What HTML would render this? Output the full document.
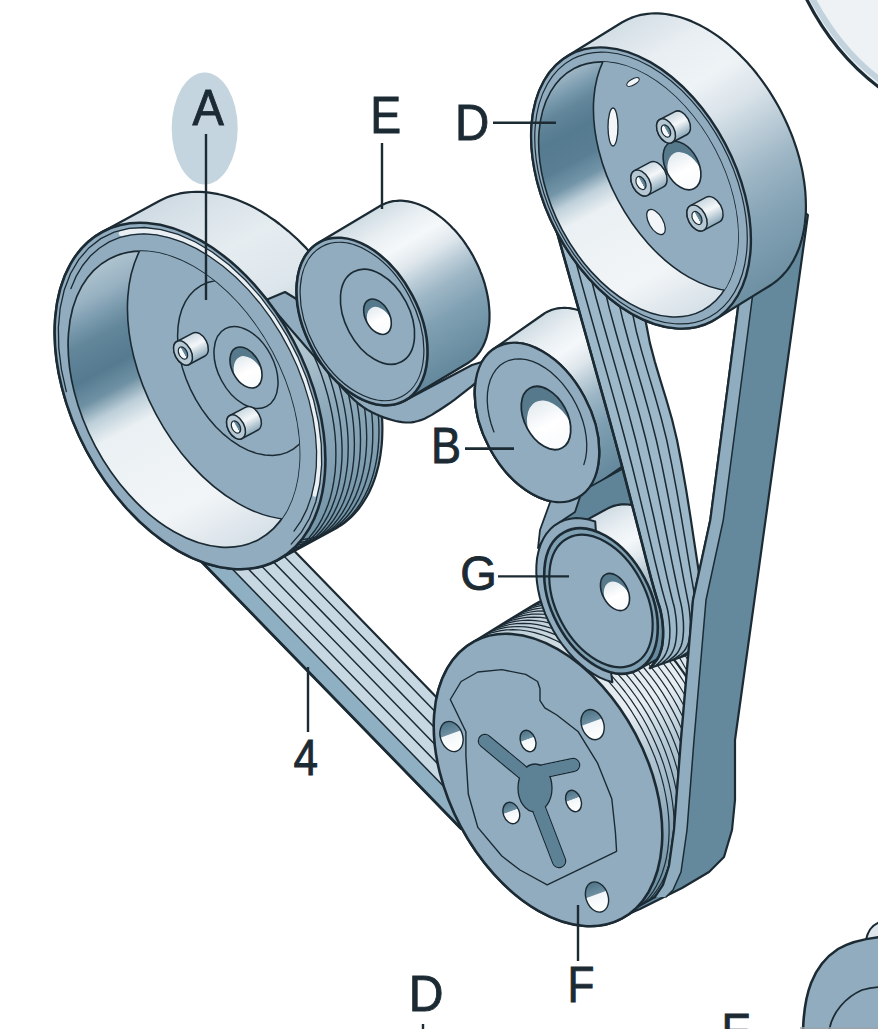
<!DOCTYPE html>
<html><head><meta charset="utf-8"><style>
html,body{margin:0;padding:0;background:#fff;overflow:hidden}
svg{display:block}
</style></head><body>
<svg width="878" height="1029" viewBox="0 0 878 1029"><defs><linearGradient id="side" gradientUnits="objectBoundingBox" x1="0" y1="0" x2="1" y2="0"><stop offset="0" stop-color="#cfdbe3"/><stop offset="0.12" stop-color="#e6edf1"/><stop offset="0.25" stop-color="#f5f8fa"/><stop offset="0.36" stop-color="#e0e8ed"/><stop offset="0.46" stop-color="#bccdd8"/><stop offset="0.56" stop-color="#9db6c5"/><stop offset="0.72" stop-color="#7fa0b2"/><stop offset="1" stop-color="#64889c"/></linearGradient><linearGradient id="sideD" gradientUnits="objectBoundingBox" x1="0" y1="0" x2="1" y2="0"><stop offset="0" stop-color="#cfdbe3"/><stop offset="0.15" stop-color="#eaf0f4"/><stop offset="0.35" stop-color="#f2f6f8"/><stop offset="0.5" stop-color="#d8e2e8"/><stop offset="0.65" stop-color="#a7bfcc"/><stop offset="0.8" stop-color="#7c9db0"/><stop offset="1" stop-color="#66899d"/></linearGradient><linearGradient id="sideA" gradientUnits="objectBoundingBox" x1="0" y1="0" x2="1" y2="0"><stop offset="0" stop-color="#cfdbe3"/><stop offset="0.2" stop-color="#e6edf1"/><stop offset="0.35" stop-color="#dde6ec"/><stop offset="0.5" stop-color="#b7cad5"/><stop offset="0.7" stop-color="#8eaabb"/><stop offset="1" stop-color="#7394a7"/></linearGradient><linearGradient id="sideF" gradientUnits="objectBoundingBox" x1="0" y1="0" x2="1" y2="0"><stop offset="0" stop-color="#b9cbd6"/><stop offset="0.25" stop-color="#dfe7ec"/><stop offset="0.45" stop-color="#e8eef2"/><stop offset="0.6" stop-color="#b4c8d4"/><stop offset="0.8" stop-color="#8eaabb"/><stop offset="1" stop-color="#6a8da0"/></linearGradient><linearGradient id="wall" gradientUnits="objectBoundingBox" x1="0" y1="0" x2="1" y2="0"><stop offset="0" stop-color="#aec3cf"/><stop offset="0.08" stop-color="#98b2c2"/><stop offset="0.14" stop-color="#7b9bae"/><stop offset="0.2" stop-color="#62869a"/><stop offset="0.3" stop-color="#557b90"/><stop offset="0.37" stop-color="#6f91a4"/><stop offset="0.43" stop-color="#bdcfd9"/><stop offset="0.5" stop-color="#eaf0f3"/><stop offset="0.8" stop-color="#f2f5f7"/><stop offset="1" stop-color="#d5e0e7"/></linearGradient><linearGradient id="wallD" gradientUnits="objectBoundingBox" x1="0" y1="0" x2="1" y2="0"><stop offset="0" stop-color="#9fb7c6"/><stop offset="0.06" stop-color="#7d9db0"/><stop offset="0.12" stop-color="#62869a"/><stop offset="0.2" stop-color="#557b90"/><stop offset="0.3" stop-color="#5a7f94"/><stop offset="0.37" stop-color="#7395a8"/><stop offset="0.43" stop-color="#c0d1db"/><stop offset="0.5" stop-color="#eaf0f3"/><stop offset="0.8" stop-color="#f2f5f7"/><stop offset="1" stop-color="#d5e0e7"/></linearGradient><linearGradient id="hole" gradientUnits="objectBoundingBox" x1="0" y1="0" x2="0" y2="1"><stop offset="0" stop-color="#4f7487"/><stop offset="0.4" stop-color="#6d8fa1"/><stop offset="0.43" stop-color="#f2f6f8"/><stop offset="1" stop-color="#ffffff"/></linearGradient><linearGradient id="holew" gradientUnits="objectBoundingBox" x1="0" y1="0" x2="1" y2="0"><stop offset="0" stop-color="#e4ebef"/><stop offset="0.4" stop-color="#ffffff"/><stop offset="1" stop-color="#f4f7f9"/></linearGradient><linearGradient id="bossg" gradientUnits="objectBoundingBox" x1="0" y1="0" x2="1" y2="0"><stop offset="0" stop-color="#c9d7e0"/><stop offset="0.45" stop-color="#f4f7f9"/><stop offset="1" stop-color="#8aa8b9"/></linearGradient><linearGradient id="cg1" gradientUnits="userSpaceOnUse" x1="497.1" y1="627.3" x2="660.9" y2="894.7"><stop offset="0" stop-color="#b9cbd6"/><stop offset="0.25" stop-color="#dfe7ec"/><stop offset="0.45" stop-color="#e8eef2"/><stop offset="0.6" stop-color="#b4c8d4"/><stop offset="0.8" stop-color="#8eaabb"/><stop offset="1" stop-color="#6a8da0"/></linearGradient><linearGradient id="cg2" gradientUnits="userSpaceOnUse" x1="513.2" y1="335.3" x2="610.8" y2="474.7"><stop offset="0" stop-color="#cfdbe3"/><stop offset="0.12" stop-color="#e6edf1"/><stop offset="0.25" stop-color="#f5f8fa"/><stop offset="0.36" stop-color="#e0e8ed"/><stop offset="0.46" stop-color="#bccdd8"/><stop offset="0.56" stop-color="#9db6c5"/><stop offset="0.72" stop-color="#7fa0b2"/><stop offset="1" stop-color="#64889c"/></linearGradient><linearGradient id="cg3" gradientUnits="userSpaceOnUse" x1="585.7" y1="520.5" x2="660.3" y2="657.5"><stop offset="0" stop-color="#cfdbe3"/><stop offset="0.12" stop-color="#e6edf1"/><stop offset="0.25" stop-color="#f5f8fa"/><stop offset="0.36" stop-color="#e0e8ed"/><stop offset="0.46" stop-color="#bccdd8"/><stop offset="0.56" stop-color="#9db6c5"/><stop offset="0.72" stop-color="#7fa0b2"/><stop offset="1" stop-color="#64889c"/></linearGradient><linearGradient id="cg4" gradientUnits="userSpaceOnUse" x1="589.2" y1="42.7" x2="747.8" y2="299.3"><stop offset="0" stop-color="#d3dee5"/><stop offset="0.15" stop-color="#e8eef2"/><stop offset="0.3" stop-color="#eef3f6"/><stop offset="0.42" stop-color="#dbe4ea"/><stop offset="0.52" stop-color="#c0d0da"/><stop offset="0.65" stop-color="#9fb7c6"/><stop offset="0.8" stop-color="#84a3b5"/><stop offset="1" stop-color="#6e90a3"/></linearGradient><linearGradient id="cg5" gradientUnits="userSpaceOnUse" x1="129.6" y1="217.1" x2="307.4" y2="543.9"><stop offset="0" stop-color="#cfdbe3"/><stop offset="0.2" stop-color="#e6edf1"/><stop offset="0.35" stop-color="#dde6ec"/><stop offset="0.5" stop-color="#b7cad5"/><stop offset="0.7" stop-color="#8eaabb"/><stop offset="1" stop-color="#7394a7"/></linearGradient><linearGradient id="cg6" gradientUnits="userSpaceOnUse" x1="346.9" y1="225.8" x2="439.1" y2="380.2"><stop offset="0" stop-color="#cfdbe3"/><stop offset="0.12" stop-color="#e6edf1"/><stop offset="0.25" stop-color="#f5f8fa"/><stop offset="0.36" stop-color="#e0e8ed"/><stop offset="0.46" stop-color="#bccdd8"/><stop offset="0.56" stop-color="#9db6c5"/><stop offset="0.72" stop-color="#7fa0b2"/><stop offset="1" stop-color="#64889c"/></linearGradient></defs><rect width="878" height="1029" fill="#fff"/><path d="M806,-2 C822,30 845,62 880,88 L880,-2 Z" fill="#eef2f5"/>
<path d="M812,-2 C828,28 850,58 880,80" fill="none" stroke="#c3d3dd" stroke-width="6"/>
<path d="M806,-2 C822,30 845,62 880,88" fill="none" stroke="#1b2a33" stroke-width="3.2"/>
<polygon points="655.0,640.0 700.0,630.0 705.0,690.0 660.0,690.0" fill="#dde6ec" stroke="none" stroke-width="0" stroke-linejoin="round" />
<polyline points="664.0,655.0 684.0,690.0" fill="none" stroke="#1b2a33" stroke-width="1.2" stroke-linejoin="round" stroke-linecap="round"/>
<polyline points="671.0,655.0 691.0,690.0" fill="none" stroke="#1b2a33" stroke-width="1.2" stroke-linejoin="round" stroke-linecap="round"/>
<polyline points="678.0,655.0 698.0,690.0" fill="none" stroke="#1b2a33" stroke-width="1.2" stroke-linejoin="round" stroke-linecap="round"/>
<polyline points="685.0,655.0 705.0,690.0" fill="none" stroke="#1b2a33" stroke-width="1.2" stroke-linejoin="round" stroke-linecap="round"/>
<polygon points="433.7,726.5 433.8,721.8 434.0,717.1 434.3,712.5 434.8,708.1 435.4,703.7 436.2,699.4 437.0,695.1 438.1,691.0 439.2,687.0 440.5,683.2 441.9,679.4 443.5,675.8 445.1,672.2 446.9,668.9 448.9,665.6 450.9,662.5 453.1,659.5 455.4,656.7 457.7,654.1 460.2,651.5 462.9,649.2 465.6,647.0 468.4,645.0 471.3,643.1 533.3,605.1 536.3,603.4 539.4,601.8 542.6,600.5 545.8,599.3 549.2,598.3 552.6,597.4 556.1,596.8 559.6,596.3 563.2,595.9 566.9,595.8 570.6,595.9 574.4,596.1 578.2,596.5 582.0,597.1 585.9,597.8 589.8,598.7 593.8,599.8 597.7,601.1 601.7,602.6 605.7,604.2 609.7,606.0 613.7,607.9 617.6,610.0 621.6,612.3 625.6,614.7 629.5,617.3 633.4,620.1 637.3,623.0 641.2,626.0 645.0,629.2 648.8,632.5 652.5,635.9 656.2,639.5 659.8,643.2 663.4,647.0 666.9,651.0 670.3,655.0 673.6,659.2 676.9,663.4 680.1,667.8 683.2,672.2 686.2,676.7 689.1,681.3 692.0,686.0 694.7,690.8 697.3,695.6 699.9,700.4 702.3,705.3 704.6,710.3 706.7,715.3 708.8,720.3 710.7,725.4 712.6,730.5 714.3,735.6 715.8,740.7 717.3,745.8 718.6,750.9 719.8,756.0 720.8,761.0 721.7,766.1 722.5,771.1 723.1,776.1 723.6,781.0 724.0,785.9 724.2,790.8 724.3,795.5 724.2,800.2 724.0,804.9 723.7,809.5 723.2,813.9 722.6,818.3 721.8,822.6 721.0,826.9 719.9,831.0 718.8,835.0 717.5,838.8 716.1,842.6 714.5,846.2 712.9,849.8 711.1,853.1 709.1,856.4 707.1,859.5 704.9,862.5 702.6,865.3 700.3,867.9 697.8,870.5 695.1,872.8 692.4,875.0 689.6,877.0 686.7,878.9 624.7,916.9 621.7,918.6 618.6,920.2 615.4,921.5 612.2,922.7 608.8,923.7 605.4,924.6 601.9,925.2 598.4,925.7 594.8,926.1 591.1,926.2 587.4,926.1 583.6,925.9 579.8,925.5 576.0,924.9 572.1,924.2 568.2,923.3 564.2,922.2 560.3,920.9 556.3,919.4 552.3,917.8 548.3,916.0 544.3,914.1 540.4,912.0 536.4,909.7 532.4,907.3 528.5,904.7 524.6,901.9 520.7,899.0 516.8,896.0 513.0,892.8 509.2,889.5 505.5,886.1 501.8,882.5 498.2,878.8 494.6,875.0 491.1,871.0 487.7,867.0 484.4,862.8 481.1,858.6 477.9,854.2 474.8,849.8 471.8,845.3 468.9,840.7 466.0,836.0 463.3,831.2 460.7,826.4 458.1,821.6 455.7,816.7 453.4,811.7 451.3,806.7 449.2,801.7 447.3,796.6 445.4,791.5 443.7,786.4 442.2,781.3 440.7,776.2 439.4,771.1 438.2,766.0 437.2,761.0 436.3,755.9 435.5,750.9 434.9,745.9 434.4,741.0 434.0,736.1 433.8,731.2" fill="url(#cg1)" stroke="#1b2a33" stroke-width="2.2" stroke-linejoin="round"/><clipPath id="cg1c"><polygon points="433.7,726.5 433.8,721.8 434.0,717.1 434.3,712.5 434.8,708.1 435.4,703.7 436.2,699.4 437.0,695.1 438.1,691.0 439.2,687.0 440.5,683.2 441.9,679.4 443.5,675.8 445.1,672.2 446.9,668.9 448.9,665.6 450.9,662.5 453.1,659.5 455.4,656.7 457.7,654.1 460.2,651.5 462.9,649.2 465.6,647.0 468.4,645.0 471.3,643.1 533.3,605.1 536.3,603.4 539.4,601.8 542.6,600.5 545.8,599.3 549.2,598.3 552.6,597.4 556.1,596.8 559.6,596.3 563.2,595.9 566.9,595.8 570.6,595.9 574.4,596.1 578.2,596.5 582.0,597.1 585.9,597.8 589.8,598.7 593.8,599.8 597.7,601.1 601.7,602.6 605.7,604.2 609.7,606.0 613.7,607.9 617.6,610.0 621.6,612.3 625.6,614.7 629.5,617.3 633.4,620.1 637.3,623.0 641.2,626.0 645.0,629.2 648.8,632.5 652.5,635.9 656.2,639.5 659.8,643.2 663.4,647.0 666.9,651.0 670.3,655.0 673.6,659.2 676.9,663.4 680.1,667.8 683.2,672.2 686.2,676.7 689.1,681.3 692.0,686.0 694.7,690.8 697.3,695.6 699.9,700.4 702.3,705.3 704.6,710.3 706.7,715.3 708.8,720.3 710.7,725.4 712.6,730.5 714.3,735.6 715.8,740.7 717.3,745.8 718.6,750.9 719.8,756.0 720.8,761.0 721.7,766.1 722.5,771.1 723.1,776.1 723.6,781.0 724.0,785.9 724.2,790.8 724.3,795.5 724.2,800.2 724.0,804.9 723.7,809.5 723.2,813.9 722.6,818.3 721.8,822.6 721.0,826.9 719.9,831.0 718.8,835.0 717.5,838.8 716.1,842.6 714.5,846.2 712.9,849.8 711.1,853.1 709.1,856.4 707.1,859.5 704.9,862.5 702.6,865.3 700.3,867.9 697.8,870.5 695.1,872.8 692.4,875.0 689.6,877.0 686.7,878.9 624.7,916.9 621.7,918.6 618.6,920.2 615.4,921.5 612.2,922.7 608.8,923.7 605.4,924.6 601.9,925.2 598.4,925.7 594.8,926.1 591.1,926.2 587.4,926.1 583.6,925.9 579.8,925.5 576.0,924.9 572.1,924.2 568.2,923.3 564.2,922.2 560.3,920.9 556.3,919.4 552.3,917.8 548.3,916.0 544.3,914.1 540.4,912.0 536.4,909.7 532.4,907.3 528.5,904.7 524.6,901.9 520.7,899.0 516.8,896.0 513.0,892.8 509.2,889.5 505.5,886.1 501.8,882.5 498.2,878.8 494.6,875.0 491.1,871.0 487.7,867.0 484.4,862.8 481.1,858.6 477.9,854.2 474.8,849.8 471.8,845.3 468.9,840.7 466.0,836.0 463.3,831.2 460.7,826.4 458.1,821.6 455.7,816.7 453.4,811.7 451.3,806.7 449.2,801.7 447.3,796.6 445.4,791.5 443.7,786.4 442.2,781.3 440.7,776.2 439.4,771.1 438.2,766.0 437.2,761.0 436.3,755.9 435.5,750.9 434.9,745.9 434.4,741.0 434.0,736.1 433.8,731.2"/></clipPath><g clip-path="url(#cg1c)"><polyline points="481.1,637.2 487.0,634.5 493.1,632.3 499.6,630.8 506.2,629.9 513.1,629.6 520.1,630.0 527.3,631.0 534.7,632.6 542.1,634.8 549.5,637.6 557.0,641.0 564.5,645.0 571.9,649.5 579.2,654.6 586.5,660.2 593.6,666.3 600.5,672.9 607.3,679.9 613.8,687.3 620.1,695.1 626.1,703.2 631.8,711.7 637.1,720.4 642.2,729.4 646.8,738.5 651.0,747.9 654.9,757.3 658.3,766.8 661.2,776.4 663.7,786.0 665.7,795.5 667.3,804.9 668.4,814.2 669.0,823.4 669.1,832.3 668.7,841.0 667.8,849.4 666.5,857.5 664.6,865.3 662.3,872.7 659.6,879.6 656.3,886.1 652.7,892.2 648.6,897.7 644.1,902.7 639.3,907.2 634.1,911.1 628.5,914.4" fill="none" stroke="#1b2a33" stroke-width="1.2" stroke-linejoin="round" stroke-linecap="round"/><polyline points="486.2,634.1 492.1,631.3 498.3,629.2 504.7,627.7 511.3,626.8 518.2,626.5 525.3,626.8 532.5,627.8 539.8,629.4 547.2,631.6 554.6,634.4 562.1,637.8 569.6,641.8 577.0,646.4 584.4,651.5 591.6,657.1 598.7,663.2 605.7,669.7 612.4,676.7 618.9,684.2 625.2,692.0 631.2,700.1 636.9,708.6 642.3,717.3 647.3,726.2 651.9,735.4 656.1,744.7 660.0,754.2 663.4,763.7 666.3,773.3 668.8,782.8 670.9,792.3 672.4,801.8 673.5,811.1 674.1,820.2 674.2,829.2 673.8,837.9 672.9,846.3 671.6,854.4 669.7,862.1 667.4,869.5 664.7,876.5 661.5,883.0 657.8,889.0 653.7,894.6 649.3,899.6 644.4,904.1 639.2,908.0 633.6,911.3" fill="none" stroke="#1b2a33" stroke-width="1.2" stroke-linejoin="round" stroke-linecap="round"/><polyline points="491.3,630.9 497.2,628.2 503.4,626.1 509.8,624.5 516.5,623.6 523.3,623.4 530.4,623.7 537.6,624.7 544.9,626.3 552.3,628.5 559.7,631.3 567.2,634.7 574.7,638.7 582.1,643.2 589.5,648.3 596.7,653.9 603.8,660.0 610.8,666.6 617.5,673.6 624.1,681.0 630.3,688.8 636.3,697.0 642.0,705.4 647.4,714.1 652.4,723.1 657.0,732.3 661.3,741.6 665.1,751.0 668.5,760.6 671.4,770.1 673.9,779.7 676.0,789.2 677.5,798.6 678.6,808.0 679.2,817.1 679.3,826.0 678.9,834.7 678.1,843.2 676.7,851.3 674.9,859.0 672.6,866.4 669.8,873.3 666.6,879.8 662.9,885.9 658.9,891.4 654.4,896.4 649.5,900.9 644.3,904.8 638.8,908.2" fill="none" stroke="#1b2a33" stroke-width="1.2" stroke-linejoin="round" stroke-linecap="round"/><polyline points="496.5,627.8 502.3,625.1 508.5,622.9 514.9,621.4 521.6,620.5 528.4,620.2 535.5,620.6 542.7,621.5 550.0,623.1 557.4,625.4 564.9,628.2 572.3,631.6 579.8,635.6 587.2,640.1 594.6,645.2 601.8,650.8 608.9,656.9 615.9,663.5 622.6,670.5 629.2,677.9 635.4,685.7 641.4,693.8 647.1,702.3 652.5,711.0 657.5,720.0 662.1,729.1 666.4,738.5 670.2,747.9 673.6,757.4 676.6,767.0 679.1,776.6 681.1,786.1 682.7,795.5 683.7,804.8 684.3,814.0 684.4,822.9 684.0,831.6 683.2,840.0 681.8,848.1 680.0,855.9 677.7,863.2 674.9,870.2 671.7,876.7 668.0,882.8 664.0,888.3 659.5,893.3 654.6,897.8 649.4,901.7 643.9,905.0" fill="none" stroke="#1b2a33" stroke-width="1.2" stroke-linejoin="round" stroke-linecap="round"/><polyline points="501.6,624.7 507.4,621.9 513.6,619.8 520.0,618.3 526.7,617.4 533.6,617.1 540.6,617.4 547.8,618.4 555.1,620.0 562.5,622.2 570.0,625.0 577.4,628.4 584.9,632.4 592.3,637.0 599.7,642.1 606.9,647.7 614.1,653.8 621.0,660.3 627.8,667.3 634.3,674.7 640.6,682.5 646.6,690.7 652.2,699.1 657.6,707.9 662.6,716.8 667.2,726.0 671.5,735.3 675.3,744.8 678.7,754.3 681.7,763.9 684.2,773.4 686.2,782.9 687.8,792.4 688.8,801.7 689.4,810.8 689.5,819.8 689.2,828.5 688.3,836.9 686.9,845.0 685.1,852.7 682.8,860.1 680.0,867.1 676.8,873.6 673.2,879.6 669.1,885.2 664.6,890.2 659.8,894.7 654.5,898.6 649.0,901.9" fill="none" stroke="#1b2a33" stroke-width="1.2" stroke-linejoin="round" stroke-linecap="round"/><polyline points="506.7,621.5 512.6,618.8 518.7,616.6 525.1,615.1 531.8,614.2 538.7,614.0 545.7,614.3 552.9,615.3 560.2,616.9 567.6,619.1 575.1,621.9 582.6,625.3 590.0,629.3 597.5,633.8 604.8,638.9 612.1,644.5 619.2,650.6 626.1,657.2 632.9,664.2 639.4,671.6 645.7,679.4 651.7,687.6 657.4,696.0 662.7,704.7 667.7,713.7 672.4,722.9 676.6,732.2 680.4,741.6 683.8,751.2 686.8,760.7 689.3,770.3 691.3,779.8 692.9,789.2 694.0,798.5 694.6,807.7 694.7,816.6 694.3,825.3 693.4,833.7 692.0,841.9 690.2,849.6 687.9,857.0 685.1,863.9 681.9,870.4 678.3,876.5 674.2,882.0 669.7,887.0 664.9,891.5 659.7,895.4 654.1,898.8" fill="none" stroke="#1b2a33" stroke-width="1.2" stroke-linejoin="round" stroke-linecap="round"/><polyline points="511.8,618.4 517.7,615.6 523.8,613.5 530.3,612.0 536.9,611.1 543.8,610.8 550.8,611.2 558.0,612.1 565.3,613.7 572.7,615.9 580.2,618.8 587.7,622.2 595.1,626.2 602.6,630.7 609.9,635.8 617.2,641.4 624.3,647.5 631.2,654.0 638.0,661.1 644.5,668.5 650.8,676.3 656.8,684.4 662.5,692.9 667.8,701.6 672.8,710.6 677.5,719.7 681.7,729.1 685.5,738.5 688.9,748.0 691.9,757.6 694.4,767.2 696.4,776.7 698.0,786.1 699.1,795.4 699.7,804.6 699.8,813.5 699.4,822.2 698.5,830.6 697.2,838.7 695.3,846.5 693.0,853.8 690.2,860.8 687.0,867.3 683.4,873.3 679.3,878.9 674.8,883.9 670.0,888.4 664.8,892.3 659.2,895.6" fill="none" stroke="#1b2a33" stroke-width="1.2" stroke-linejoin="round" stroke-linecap="round"/><polyline points="516.9,615.2 522.8,612.5 529.0,610.4 535.4,608.9 542.0,608.0 548.9,607.7 556.0,608.0 563.2,609.0 570.5,610.6 577.9,612.8 585.3,615.6 592.8,619.0 600.3,623.0 607.7,627.6 615.0,632.6 622.3,638.2 629.4,644.3 636.4,650.9 643.1,657.9 649.6,665.3 655.9,673.1 661.9,681.3 667.6,689.7 673.0,698.5 678.0,707.4 682.6,716.6 686.8,725.9 690.7,735.4 694.1,744.9 697.0,754.5 699.5,764.0 701.6,773.5 703.1,783.0 704.2,792.3 704.8,801.4 704.9,810.4 704.5,819.1 703.6,827.5 702.3,835.6 700.4,843.3 698.1,850.7 695.4,857.7 692.1,864.2 688.5,870.2 684.4,875.8 680.0,880.8 675.1,885.2 669.9,889.2 664.3,892.5" fill="none" stroke="#1b2a33" stroke-width="1.2" stroke-linejoin="round" stroke-linecap="round"/><polyline points="522.0,612.1 527.9,609.4 534.1,607.2 540.5,605.7 547.2,604.8 554.0,604.5 561.1,604.9 568.3,605.9 575.6,607.5 583.0,609.7 590.4,612.5 597.9,615.9 605.4,619.9 612.8,624.4 620.2,629.5 627.4,635.1 634.5,641.2 641.5,647.8 648.2,654.8 654.8,662.2 661.0,670.0 667.0,678.1 672.7,686.6 678.1,695.3 683.1,704.3 687.7,713.5 692.0,722.8 695.8,732.2 699.2,741.8 702.1,751.3 704.6,760.9 706.7,770.4 708.2,779.8 709.3,789.1 709.9,798.3 710.0,807.2 709.6,815.9 708.7,824.3 707.4,832.4 705.6,840.2 703.2,847.6 700.5,854.5 697.3,861.0 693.6,867.1 689.5,872.6 685.1,877.6 680.2,882.1 675.0,886.0 669.5,889.4" fill="none" stroke="#1b2a33" stroke-width="1.2" stroke-linejoin="round" stroke-linecap="round"/><polyline points="527.2,609.0 533.0,606.2 539.2,604.1 545.6,602.6 552.3,601.7 559.1,601.4 566.2,601.8 573.4,602.7 580.7,604.3 588.1,606.5 595.6,609.4 603.0,612.8 610.5,616.7 617.9,621.3 625.3,626.4 632.5,632.0 639.6,638.1 646.6,644.6 653.3,651.7 659.9,659.1 666.1,666.9 672.1,675.0 677.8,683.5 683.2,692.2 688.2,701.2 692.8,710.3 697.1,719.7 700.9,729.1 704.3,738.6 707.3,748.2 709.8,757.7 711.8,767.3 713.3,776.7 714.4,786.0 715.0,795.1 715.1,804.1 714.7,812.8 713.9,821.2 712.5,829.3 710.7,837.1 708.4,844.4 705.6,851.4 702.4,857.9 698.7,863.9 694.7,869.5 690.2,874.5 685.3,879.0 680.1,882.9 674.6,886.2" fill="none" stroke="#1b2a33" stroke-width="1.2" stroke-linejoin="round" stroke-linecap="round"/><polyline points="532.3,605.8 538.1,603.1 544.3,601.0 550.7,599.4 557.4,598.5 564.3,598.3 571.3,598.6 578.5,599.6 585.8,601.2 593.2,603.4 600.7,606.2 608.1,609.6 615.6,613.6 623.0,618.2 630.4,623.2 637.6,628.8 644.8,634.9 651.7,641.5 658.5,648.5 665.0,655.9 671.3,663.7 677.3,671.9 682.9,680.3 688.3,689.1 693.3,698.0 697.9,707.2 702.2,716.5 706.0,726.0 709.4,735.5 712.4,745.1 714.9,754.6 716.9,764.1 718.5,773.6 719.5,782.9 720.1,792.0 720.2,801.0 719.8,809.7 719.0,818.1 717.6,826.2 715.8,833.9 713.5,841.3 710.7,848.3 707.5,854.8 703.8,860.8 699.8,866.3 695.3,871.4 690.5,875.8 685.2,879.8 679.7,883.1" fill="none" stroke="#1b2a33" stroke-width="1.2" stroke-linejoin="round" stroke-linecap="round"/></g>
<polygon points="474.8,393.3 474.8,390.8 474.9,388.2 475.1,385.8 475.3,383.3 475.7,380.9 476.1,378.6 476.6,376.3 477.1,374.1 477.8,371.9 478.5,369.8 479.2,367.7 480.1,365.7 481.0,363.8 482.0,362.0 483.0,360.2 484.1,358.5 485.3,356.9 486.5,355.4 487.8,353.9 489.2,352.5 490.6,351.3 492.1,350.1 493.6,349.0 543.6,314.0 545.2,312.9 546.9,312.0 548.5,311.2 550.3,310.4 552.1,309.8 553.9,309.2 555.7,308.8 557.6,308.4 559.6,308.1 561.5,308.0 563.5,307.9 565.5,307.9 567.6,308.0 569.7,308.2 571.8,308.6 573.9,309.0 576.0,309.5 578.2,310.1 580.3,310.8 582.5,311.6 584.7,312.4 586.8,313.4 589.0,314.5 591.2,315.6 593.3,316.9 595.5,318.2 597.6,319.6 599.8,321.1 601.9,322.7 604.0,324.3 606.1,326.0 608.1,327.9 610.1,329.7 612.2,331.7 614.1,333.7 616.1,335.8 618.0,337.9 619.8,340.1 621.7,342.4 623.4,344.7 625.2,347.1 626.9,349.5 628.5,352.0 630.1,354.5 631.6,357.0 633.1,359.6 634.6,362.2 635.9,364.9 637.2,367.5 638.5,370.2 639.7,373.0 640.8,375.7 641.9,378.5 642.9,381.2 643.8,384.0 644.6,386.8 645.4,389.6 646.1,392.3 646.8,395.1 647.3,397.9 647.8,400.6 648.3,403.3 648.6,406.1 648.9,408.7 649.1,411.4 649.2,414.1 649.2,416.7 649.2,419.2 649.1,421.8 648.9,424.2 648.7,426.7 648.3,429.1 647.9,431.4 647.4,433.7 646.9,435.9 646.2,438.1 645.5,440.2 644.8,442.3 643.9,444.3 643.0,446.2 642.0,448.0 641.0,449.8 639.9,451.5 638.7,453.1 637.5,454.6 636.2,456.1 634.8,457.5 633.4,458.7 631.9,459.9 630.4,461.0 580.4,496.0 578.8,497.1 577.1,498.0 575.5,498.8 573.7,499.6 571.9,500.2 570.1,500.8 568.3,501.2 566.4,501.6 564.4,501.9 562.5,502.0 560.5,502.1 558.5,502.1 556.4,502.0 554.3,501.8 552.2,501.4 550.1,501.0 548.0,500.5 545.8,499.9 543.7,499.2 541.5,498.4 539.3,497.6 537.2,496.6 535.0,495.5 532.8,494.4 530.7,493.1 528.5,491.8 526.4,490.4 524.2,488.9 522.1,487.3 520.0,485.7 517.9,484.0 515.9,482.1 513.9,480.3 511.8,478.3 509.9,476.3 507.9,474.2 506.0,472.1 504.2,469.9 502.3,467.6 500.6,465.3 498.8,462.9 497.1,460.5 495.5,458.0 493.9,455.5 492.4,453.0 490.9,450.4 489.4,447.8 488.1,445.1 486.8,442.5 485.5,439.8 484.3,437.0 483.2,434.3 482.1,431.5 481.1,428.8 480.2,426.0 479.4,423.2 478.6,420.4 477.9,417.7 477.2,414.9 476.7,412.1 476.2,409.4 475.7,406.7 475.4,403.9 475.1,401.3 474.9,398.6 474.8,395.9" fill="url(#cg2)" stroke="#1b2a33" stroke-width="2.2" stroke-linejoin="round"/>
<g transform="translate(537,422.5) rotate(62.0)" ><ellipse cx="0.00" cy="0.00" rx="85.50" ry="53.87" fill="#91acbf" stroke="#1b2a33" stroke-width="2.4" /><polyline points="-11.88,42.44 -20.21,41.17 -28.23,39.25 -35.80,36.72 -42.81,33.61 -49.15,29.97 -54.72,25.86 -59.42,21.34 -63.19,16.49 -65.97,11.38 -67.71,6.09 -68.39,0.71 -67.99,-4.69 -66.53,-10.01 -64.02,-15.18 -60.50,-20.11 -56.03,-24.72 -50.68,-28.94 -44.54,-32.71 -37.69,-35.96 -30.25,-38.65 -22.34,-40.73 -14.08,-42.17 -5.59,-42.95 2.98,-43.05 11.51,-42.48 19.86,-41.24 27.89,-39.35 35.48,-36.84 42.52,-33.75 48.89,-30.14 54.49,-26.05 59.24,-21.55" fill="none" stroke="#1b2a33" stroke-width="1.3" stroke-linecap="round"/></g>
<g transform="translate(546,418) rotate(62.0)" ><clipPath id="h1"><ellipse cx="0" cy="0" rx="34" ry="21.42"/></clipPath><g clip-path="url(#h1)"><ellipse cx="0" cy="0" rx="34" ry="21.42" fill="#56798c"/><ellipse cx="14.28" cy="1.70" rx="33.32" ry="20.99" fill="url(#holew)"/></g><ellipse cx="0.00" cy="0.00" rx="34.00" ry="21.42" fill="none" stroke="#1b2a33" stroke-width="1.8" /></g>
<polygon points="566.0,500.0 635.0,462.0 648.0,512.0 600.0,525.0 566.0,538.0" fill="#5f8397" stroke="#1b2a33" stroke-width="1.6" stroke-linejoin="round" />
<polygon points="544.2,574.4 544.3,572.1 544.4,569.8 544.5,567.5 544.8,565.3 545.1,563.1 545.4,560.9 545.9,558.8 546.4,556.8 547.0,554.8 547.6,552.9 548.3,551.0 549.1,549.2 549.9,547.5 550.8,545.8 551.8,544.2 552.8,542.6 553.8,541.2 555.0,539.8 556.2,538.4 557.4,537.2 558.7,536.0 560.0,534.9 561.4,533.9 562.9,533.0 564.4,532.1 608.4,508.1 609.9,507.4 611.5,506.7 613.1,506.1 614.8,505.6 616.5,505.2 618.2,504.8 620.0,504.6 621.8,504.4 623.6,504.4 625.4,504.4 627.3,504.5 629.2,504.7 631.1,505.0 633.0,505.4 635.0,505.8 636.9,506.4 638.9,507.0 640.9,507.7 642.9,508.5 644.8,509.4 646.8,510.4 648.8,511.4 650.8,512.6 652.7,513.8 654.7,515.1 656.6,516.4 658.6,517.9 660.5,519.4 662.4,520.9 664.3,522.6 666.1,524.3 667.9,526.1 669.7,527.9 671.5,529.8 673.2,531.8 674.9,533.8 676.6,535.8 678.2,538.0 679.8,540.1 681.4,542.3 682.9,544.6 684.3,546.9 685.7,549.2 687.1,551.5 688.4,553.9 689.6,556.3 690.8,558.8 692.0,561.3 693.1,563.7 694.1,566.2 695.1,568.8 696.0,571.3 696.8,573.8 697.6,576.3 698.3,578.9 698.9,581.4 699.5,583.9 700.0,586.5 700.5,589.0 700.9,591.5 701.2,593.9 701.4,596.4 701.6,598.8 701.7,601.2 701.8,603.6 701.7,605.9 701.6,608.2 701.5,610.5 701.2,612.7 700.9,614.9 700.6,617.1 700.1,619.2 699.6,621.2 699.0,623.2 698.4,625.1 697.7,627.0 696.9,628.8 696.1,630.5 695.2,632.2 694.2,633.8 693.2,635.4 692.2,636.8 691.0,638.2 689.8,639.6 688.6,640.8 687.3,642.0 686.0,643.1 684.6,644.1 683.1,645.0 681.6,645.9 637.6,669.9 636.1,670.6 634.5,671.3 632.9,671.9 631.2,672.4 629.5,672.8 627.8,673.2 626.0,673.4 624.2,673.6 622.4,673.6 620.6,673.6 618.7,673.5 616.8,673.3 614.9,673.0 613.0,672.6 611.0,672.2 609.1,671.6 607.1,671.0 605.1,670.3 603.1,669.5 601.2,668.6 599.2,667.6 597.2,666.6 595.2,665.4 593.3,664.2 591.3,662.9 589.4,661.6 587.4,660.1 585.5,658.6 583.6,657.1 581.7,655.4 579.9,653.7 578.1,651.9 576.3,650.1 574.5,648.2 572.8,646.2 571.1,644.2 569.4,642.2 567.8,640.0 566.2,637.9 564.6,635.7 563.1,633.4 561.7,631.1 560.3,628.8 558.9,626.5 557.6,624.1 556.4,621.7 555.2,619.2 554.0,616.7 552.9,614.3 551.9,611.8 550.9,609.2 550.0,606.7 549.2,604.2 548.4,601.7 547.7,599.1 547.1,596.6 546.5,594.1 546.0,591.5 545.5,589.0 545.1,586.5 544.8,584.1 544.6,581.6 544.4,579.2 544.3,576.8" fill="url(#cg3)" stroke="#1b2a33" stroke-width="2.2" stroke-linejoin="round"/>
<polygon points="548.0,200.0 549.1,203.8 550.2,207.8 551.7,213.1 553.9,221.1 557.2,233.0 562.0,250.0 568.8,274.2 577.4,304.9 587.1,339.5 597.1,375.3 606.7,409.7 615.0,440.0 622.3,467.2 629.2,493.7 635.7,518.7 641.6,541.6 646.7,561.6 651.0,578.0 654.3,589.9 656.6,597.7 658.1,602.6 659.2,605.9 660.1,608.9 661.0,613.0 661.9,617.8 662.5,622.3 662.9,626.6 663.1,630.6 663.1,634.4 663.0,638.0 662.7,641.5 662.3,644.7 661.7,647.8 660.9,650.7 660.0,653.4 659.0,656.0 657.7,658.5 656.0,660.9 654.2,663.1 652.5,665.1 651.0,666.8 650.0,668.0 684.0,656.0 685.5,655.2 687.6,654.1 690.1,652.8 692.7,651.3 695.1,649.7 697.0,648.0 698.5,646.4 699.7,644.7 700.8,642.9 701.6,641.0 702.4,638.7 703.0,636.0 703.5,632.9 703.9,629.5 704.1,625.8 704.2,621.8 704.2,617.5 704.0,613.0 703.8,609.3 703.7,606.7 703.5,603.8 702.9,599.3 701.8,591.8 700.0,580.0 697.4,562.6 694.0,540.4 690.2,515.2 686.0,488.9 681.5,463.2 677.0,440.0 672.0,419.2 666.3,399.5 660.4,380.4 654.8,361.6 649.8,342.6 646.0,323.0 643.5,301.4 641.9,277.9 641.1,254.2 640.6,232.1 640.4,213.5 640.0,200.0" fill="#9db8c8" stroke="#1b2a33" stroke-width="2.2" stroke-linejoin="round" />
<polyline points="563.3,200.0 564.3,205.4 565.3,211.8 566.6,220.0 568.6,230.6 571.6,244.4 576.0,262.2 582.3,285.6 590.3,314.3 599.3,346.3 608.7,379.4 617.6,411.3 625.3,440.0 632.2,466.5 638.7,492.9 644.8,518.1 650.3,541.4 655.1,561.7 659.2,578.3 662.2,590.2 664.3,597.9 665.7,602.8 666.6,606.0 667.4,609.0 668.2,613.0 668.9,617.8 669.4,622.2 669.7,626.4 669.9,630.4 669.8,634.1 669.7,637.7 669.3,641.0 668.9,644.1 668.2,647.0 667.4,649.7 666.4,652.2 665.3,654.7 663.9,657.0 662.1,659.3 660.2,661.4 658.4,663.3 656.8,664.8 655.7,666.0" fill="none" stroke="#1b2a33" stroke-width="1.5" stroke-linejoin="round" stroke-linecap="round"/>
<polyline points="578.7,200.0 579.5,207.0 580.3,215.9 581.5,226.8 583.3,240.0 586.0,255.8 590.0,274.3 595.8,297.0 603.2,323.8 611.6,353.1 620.2,383.4 628.5,412.9 635.7,440.0 642.0,465.9 648.1,492.1 653.9,517.5 659.0,541.2 663.6,561.9 667.3,578.7 670.1,590.5 672.0,598.2 673.2,603.0 674.1,606.2 674.7,609.1 675.3,613.0 676.0,617.7 676.4,622.2 676.6,626.3 676.7,630.2 676.6,633.9 676.3,637.3 675.9,640.5 675.4,643.5 674.7,646.2 673.9,648.7 672.8,651.1 671.7,653.3 670.2,655.5 668.3,657.7 666.2,659.7 664.2,661.4 662.5,662.9 661.3,664.0" fill="none" stroke="#1b2a33" stroke-width="1.5" stroke-linejoin="round" stroke-linecap="round"/>
<polyline points="594.0,200.0 594.7,208.6 595.4,219.9 596.4,233.7 597.9,249.5 600.4,267.2 604.0,286.5 609.3,308.4 616.1,333.2 623.8,360.0 631.7,387.4 639.4,414.5 646.0,440.0 651.9,465.2 657.6,491.3 662.9,517.0 667.8,541.0 672.0,562.1 675.5,579.0 678.0,590.9 679.7,598.5 680.8,603.2 681.5,606.3 682.0,609.1 682.5,613.0 683.0,617.7 683.4,622.1 683.5,626.2 683.5,630.0 683.3,633.6 683.0,637.0 682.6,640.1 682.0,642.9 681.2,645.4 680.3,647.7 679.2,649.9 678.0,652.0 676.4,654.1 674.4,656.1 672.2,657.9 670.1,659.6 668.3,661.0 667.0,662.0" fill="none" stroke="#1b2a33" stroke-width="1.5" stroke-linejoin="round" stroke-linecap="round"/>
<polyline points="609.3,200.0 609.9,210.2 610.5,224.0 611.3,240.5 612.6,259.0 614.7,278.6 618.0,298.7 622.8,319.8 629.0,342.7 636.0,366.8 643.3,391.5 650.2,416.1 656.3,440.0 661.8,464.6 667.0,490.5 672.0,516.4 676.5,540.8 680.5,562.2 683.7,579.3 686.0,591.2 687.5,598.8 688.4,603.4 688.9,606.4 689.3,609.2 689.7,613.0 690.1,617.6 690.3,622.0 690.4,626.1 690.3,629.9 690.0,633.4 689.7,636.7 689.2,639.6 688.5,642.2 687.7,644.6 686.8,646.7 685.7,648.7 684.3,650.7 682.6,652.6 680.5,654.5 678.2,656.2 675.9,657.8 674.0,659.0 672.7,660.0" fill="none" stroke="#1b2a33" stroke-width="1.5" stroke-linejoin="round" stroke-linecap="round"/>
<polyline points="624.7,200.0 625.1,211.8 625.6,228.1 626.2,247.3 627.3,268.4 629.1,290.0 632.0,310.8 636.3,331.2 641.9,352.1 648.2,373.6 654.8,395.5 661.1,417.7 666.7,440.0 671.6,463.9 676.5,489.7 681.1,515.8 685.3,540.6 688.9,562.4 691.8,579.7 693.9,591.5 695.2,599.0 695.9,603.6 696.3,606.6 696.6,609.3 696.8,613.0 697.1,617.6 697.3,621.9 697.3,625.9 697.1,629.7 696.8,633.2 696.3,636.3 695.8,639.1 695.1,641.6 694.2,643.8 693.2,645.7 692.1,647.5 690.7,649.3 688.9,651.1 686.6,652.9 684.1,654.5 681.8,655.9 679.8,657.1 678.3,658.0" fill="none" stroke="#1b2a33" stroke-width="1.5" stroke-linejoin="round" stroke-linecap="round"/>
<polyline points="548.0,200.0 549.1,203.8 550.2,207.8 551.7,213.1 553.9,221.1 557.2,233.0 562.0,250.0 568.8,274.2 577.4,304.9 587.1,339.5 597.1,375.3 606.7,409.7 615.0,440.0 622.3,467.2 629.2,493.7 635.7,518.7 641.6,541.6 646.7,561.6 651.0,578.0 654.3,589.9 656.6,597.7 658.1,602.6 659.2,605.9 660.1,608.9 661.0,613.0 661.9,617.8 662.5,622.3 662.9,626.6 663.1,630.6 663.1,634.4 663.0,638.0 662.7,641.5 662.3,644.7 661.7,647.8 660.9,650.7 660.0,653.4 659.0,656.0 657.7,658.5 656.0,660.9 654.2,663.1 652.5,665.1 651.0,666.8 650.0,668.0" fill="none" stroke="#1b2a33" stroke-width="2.6" stroke-linejoin="round" stroke-linecap="round"/>
<polygon points="790.0,200.0 807.9,215.0 735.0,740.0 735.0,800.0 732.0,830.0 724.0,857.0 709.0,872.0 682.0,888.0 664.0,897.0 640.0,909.0 614.0,920.0 655.0,897.0 663.0,885.0 669.0,866.0 674.0,830.0 681.0,740.0 693.0,600.0 710.3,520.0 728.6,380.0 739.0,300.0 750.0,220.0" fill="#64889c" stroke="#1b2a33" stroke-width="2.2" stroke-linejoin="round" />
<polygon points="750.0,220.0 739.0,300.0 728.6,380.0 710.3,520.0 693.0,600.0 681.0,740.0 674.0,830.0 669.0,866.0 663.0,885.0 655.0,897.0 666.0,897.0 673.0,890.0 681.0,872.0 687.0,830.0 694.0,740.0 706.0,600.0 723.3,520.0 741.6,380.0 752.0,300.0 763.0,220.0" fill="#8fadbf" stroke="none" stroke-width="0" stroke-linejoin="round" />
<polyline points="763.0,220.0 752.0,300.0 741.6,380.0 723.3,520.0 706.0,600.0 694.0,740.0 687.0,830.0 681.0,872.0 673.0,890.0 666.0,897.0" fill="none" stroke="#1b2a33" stroke-width="1.5" stroke-linejoin="round" stroke-linecap="round"/>
<polyline points="750.0,220.0 739.0,300.0 728.6,380.0 710.3,520.0 693.0,600.0 681.0,740.0 674.0,830.0 669.0,866.0 663.0,885.0 655.0,897.0" fill="none" stroke="#1b2a33" stroke-width="2.2" stroke-linejoin="round" stroke-linecap="round"/>
<polygon points="531.1,136.5 531.1,132.0 531.3,127.5 531.7,123.1 532.1,118.8 532.7,114.6 533.4,110.4 534.3,106.4 535.3,102.4 536.4,98.6 537.6,94.9 539.0,91.2 540.5,87.7 542.1,84.4 543.8,81.1 545.7,78.0 547.6,75.0 549.7,72.1 551.9,69.4 554.2,66.9 556.6,64.5 559.1,62.2 561.7,60.1 564.4,58.1 567.2,56.3 622.2,22.3 625.1,20.7 628.1,19.2 631.1,17.9 634.3,16.7 637.5,15.8 640.8,14.9 644.1,14.3 647.5,13.8 651.0,13.5 654.5,13.4 658.1,13.4 661.7,13.7 665.4,14.0 669.1,14.6 672.8,15.3 676.6,16.2 680.4,17.3 684.2,18.5 688.0,19.9 691.9,21.4 695.7,23.2 699.5,25.0 703.4,27.1 707.2,29.3 711.0,31.6 714.8,34.1 718.5,36.7 722.3,39.5 726.0,42.4 729.7,45.5 733.3,48.7 736.9,52.0 740.4,55.4 743.9,59.0 747.3,62.6 750.7,66.4 754.0,70.3 757.2,74.3 760.3,78.4 763.4,82.6 766.4,86.9 769.3,91.2 772.1,95.6 774.8,100.1 777.5,104.7 780.0,109.3 782.4,114.0 784.7,118.7 786.9,123.5 789.0,128.3 791.0,133.2 792.9,138.0 794.6,142.9 796.3,147.8 797.8,152.7 799.2,157.6 800.4,162.5 801.6,167.4 802.6,172.3 803.4,177.2 804.2,182.0 804.8,186.8 805.3,191.5 805.6,196.2 805.8,200.9 805.9,205.5 805.9,210.0 805.7,214.5 805.3,218.9 804.9,223.2 804.3,227.4 803.6,231.6 802.7,235.6 801.7,239.6 800.6,243.4 799.4,247.1 798.0,250.8 796.5,254.3 794.9,257.6 793.2,260.9 791.3,264.0 789.4,267.0 787.3,269.9 785.1,272.6 782.8,275.1 780.4,277.5 777.9,279.8 775.3,281.9 772.6,283.9 769.8,285.7 714.8,319.7 711.9,321.3 708.9,322.8 705.9,324.1 702.7,325.3 699.5,326.2 696.2,327.1 692.9,327.7 689.5,328.2 686.0,328.5 682.5,328.6 678.9,328.6 675.3,328.3 671.6,328.0 667.9,327.4 664.2,326.7 660.4,325.8 656.6,324.7 652.8,323.5 649.0,322.1 645.1,320.6 641.3,318.8 637.5,317.0 633.6,314.9 629.8,312.7 626.0,310.4 622.2,307.9 618.5,305.3 614.7,302.5 611.0,299.6 607.3,296.5 603.7,293.3 600.1,290.0 596.6,286.6 593.1,283.0 589.7,279.4 586.3,275.6 583.0,271.7 579.8,267.7 576.7,263.6 573.6,259.4 570.6,255.1 567.7,250.8 564.9,246.4 562.2,241.9 559.5,237.3 557.0,232.7 554.6,228.0 552.3,223.3 550.1,218.5 548.0,213.7 546.0,208.8 544.1,204.0 542.4,199.1 540.7,194.2 539.2,189.3 537.8,184.4 536.6,179.5 535.4,174.6 534.4,169.7 533.6,164.8 532.8,160.0 532.2,155.2 531.7,150.5 531.4,145.8 531.2,141.1" fill="url(#cg4)" stroke="#1b2a33" stroke-width="2.2" stroke-linejoin="round"/>
<g transform="translate(641,188) rotate(62.0)" ><ellipse cx="0.00" cy="0.00" rx="151.00" ry="95.13" fill="#91acbf" stroke="#1b2a33" stroke-width="2.4" /><ellipse cx="0.00" cy="0.00" rx="146.00" ry="91.98" fill="none" stroke="#1b2a33" stroke-width="1.2" /><ellipse cx="0.00" cy="3.00" rx="137.00" ry="86.31" fill="url(#wallD)" stroke="#1b2a33" stroke-width="1.6" /><clipPath id="cD"><ellipse cx="0" cy="3" rx="137" ry="86.31"/></clipPath><g clip-path="url(#cD)"><ellipse cx="0.00" cy="-64.00" rx="143.00" ry="90.09" fill="#91acbf" stroke="#1b2a33" stroke-width="1.6" /></g></g>
<g transform="translate(682,165.6) rotate(62.0)" ><clipPath id="h2"><ellipse cx="0" cy="0" rx="26" ry="16.38"/></clipPath><g clip-path="url(#h2)"><ellipse cx="0" cy="0" rx="26" ry="16.38" fill="#56798c"/><ellipse cx="10.92" cy="1.30" rx="25.48" ry="16.05" fill="url(#holew)"/></g><ellipse cx="0.00" cy="0.00" rx="26.00" ry="16.38" fill="none" stroke="#1b2a33" stroke-width="1.6" /></g>
<g transform="translate(666,131) rotate(62.0)" ><g transform="translate(0,0)"><path d="M-13,-17 L-13,0 A13,8.19 0 0 0 13,0 L13,-17 A13,8.19 0 0 0 -13,-17 Z" fill="url(#bossg)" stroke="#1b2a33" stroke-width="1.5"/><ellipse cx="0.00" cy="0.00" rx="13.00" ry="8.19" fill="#b5c8d3" stroke="#1b2a33" stroke-width="1.5" /><ellipse cx="0.00" cy="0.00" rx="6.50" ry="4.09" fill="url(#hole)" stroke="#1b2a33" stroke-width="1.2" /></g></g>
<g transform="translate(641,183) rotate(62.0)" ><g transform="translate(0,0)"><path d="M-14,-18 L-14,0 A14,8.82 0 0 0 14,0 L14,-18 A14,8.82 0 0 0 -14,-18 Z" fill="url(#bossg)" stroke="#1b2a33" stroke-width="1.5"/><ellipse cx="0.00" cy="0.00" rx="14.00" ry="8.82" fill="#b5c8d3" stroke="#1b2a33" stroke-width="1.5" /><ellipse cx="0.00" cy="0.00" rx="7.00" ry="4.41" fill="url(#hole)" stroke="#1b2a33" stroke-width="1.2" /></g></g>
<g transform="translate(697,218) rotate(62.0)" ><g transform="translate(0,0)"><path d="M-14,-18 L-14,0 A14,8.82 0 0 0 14,0 L14,-18 A14,8.82 0 0 0 -14,-18 Z" fill="url(#bossg)" stroke="#1b2a33" stroke-width="1.5"/><ellipse cx="0.00" cy="0.00" rx="14.00" ry="8.82" fill="#b5c8d3" stroke="#1b2a33" stroke-width="1.5" /><ellipse cx="0.00" cy="0.00" rx="7.00" ry="4.41" fill="url(#hole)" stroke="#1b2a33" stroke-width="1.2" /></g></g>
<ellipse cx="613" cy="127" rx="5" ry="19" fill="#f3f6f8" stroke="#1b2a33" stroke-width="1.3"/>
<ellipse cx="656" cy="222" rx="7" ry="14" transform="rotate(-30 656 222)" fill="#f3f6f8" stroke="#1b2a33" stroke-width="1.3"/>
<ellipse cx="633" cy="82" rx="7" ry="3" transform="rotate(-30 633 82)" fill="#f3f6f8" stroke="#1b2a33" stroke-width="1.1"/>
<polygon points="552.0,497.0 580.0,497.0 575.0,512.0 560.0,522.0 546.0,535.0 538.0,548.0 540.0,530.0" fill="#91acbf" stroke="#1b2a33" stroke-width="1.8" stroke-linejoin="round" />
<polygon points="612.4,682.2 606.0,680.1 599.4,677.3 592.9,673.6 586.5,669.2 580.2,664.1 574.1,658.4 568.3,652.1 562.8,645.2 557.8,638.0 553.1,630.3 549.0,622.3 545.3,614.2 542.3,605.9 539.8,597.5 538.0,589.2 536.8,581.0 536.3,573.0 536.4,565.3 537.1,557.9 538.6,551.0 540.6,544.6 543.3,538.8 546.5,533.6 550.4,529.1 554.7,525.3 559.5,522.3 564.7,520.1 570.3,518.7 576.2,518.1 582.4,518.4 588.7,519.6 595.2,521.5 596.0,532.2 590.4,530.5 584.9,529.6 579.5,529.3 574.4,529.8 569.6,531.0 565.1,532.9 560.9,535.5 557.2,538.8 553.9,542.7 551.1,547.2 548.8,552.2 547.0,557.7 545.8,563.7 545.1,570.1 545.0,576.8 545.5,583.7 546.5,590.8 548.1,598.0 550.2,605.2 552.9,612.4 556.0,619.5 559.6,626.4 563.6,633.0 568.0,639.3 572.7,645.2 577.7,650.7 583.0,655.6 588.4,660.0 594.0,663.8 599.6,667.0 605.3,669.5 610.9,671.3" fill="#91acbf" stroke="#1b2a33" stroke-width="2.0" stroke-linejoin="round" />
<g transform="translate(601,601) rotate(62.0)" ><ellipse cx="0.00" cy="0.00" rx="78.00" ry="49.14" fill="#7f9fb2" stroke="#1b2a33" stroke-width="2.6" /><ellipse cx="0.00" cy="0.00" rx="71.00" ry="44.73" fill="#91acbf" stroke="#1b2a33" stroke-width="2.2" /></g>
<g transform="translate(615,592) rotate(62.0)" ><clipPath id="h3"><ellipse cx="0" cy="0" rx="20" ry="12.60"/></clipPath><g clip-path="url(#h3)"><ellipse cx="0" cy="0" rx="20" ry="12.60" fill="#56798c"/><ellipse cx="8.40" cy="1.00" rx="19.60" ry="12.35" fill="url(#holew)"/></g><ellipse cx="0.00" cy="0.00" rx="20.00" ry="12.60" fill="none" stroke="#1b2a33" stroke-width="1.6" /></g>
<polygon points="196.0,556.0 249.1,504.4 513.9,776.9 460.9,828.5" fill="#c8d8e2" stroke="#1b2a33" stroke-width="2.2" stroke-linejoin="round" />
<polygon points="196.7,555.3 208.2,544.2 473.0,816.6 461.6,827.8" fill="#8fb0c2" stroke="none" stroke-width="0" stroke-linejoin="round" />
<polyline points="208.2,544.2 473.0,816.6" fill="none" stroke="#1b2a33" stroke-width="1.5" stroke-linejoin="round" stroke-linecap="round"/>
<polyline points="216.4,536.1 481.3,808.6" fill="none" stroke="#1b2a33" stroke-width="1.5" stroke-linejoin="round" stroke-linecap="round"/>
<polyline points="224.7,528.1 489.5,800.6" fill="none" stroke="#1b2a33" stroke-width="1.5" stroke-linejoin="round" stroke-linecap="round"/>
<polyline points="232.9,520.1 497.8,792.6" fill="none" stroke="#1b2a33" stroke-width="1.5" stroke-linejoin="round" stroke-linecap="round"/>
<polyline points="241.2,512.1 506.0,784.5" fill="none" stroke="#1b2a33" stroke-width="1.5" stroke-linejoin="round" stroke-linecap="round"/>
<polyline points="196.0,556.0 460.9,828.5" fill="none" stroke="#1b2a33" stroke-width="2.8" stroke-linejoin="round" stroke-linecap="round"/>
<polygon points="54.6,332.6 54.7,327.0 54.9,321.5 55.3,316.1 55.9,310.8 56.6,305.6 57.5,300.5 58.5,295.5 59.8,290.6 61.1,285.9 62.6,281.3 64.3,276.8 66.2,272.5 68.1,268.3 70.3,264.3 72.6,260.5 75.0,256.8 77.5,253.3 80.2,250.0 83.1,246.8 86.0,243.8 89.1,241.0 92.3,238.4 95.7,236.0 99.1,233.8 102.7,231.8 159.7,200.8 163.3,199.0 167.1,197.3 171.0,195.9 174.9,194.7 179.0,193.7 183.1,192.9 187.3,192.3 191.6,192.0 195.9,191.8 200.3,191.9 204.8,192.1 209.3,192.6 213.9,193.3 218.5,194.2 223.1,195.3 227.8,196.6 232.5,198.1 237.2,199.8 241.9,201.7 246.6,203.8 251.3,206.1 256.1,208.6 260.8,211.3 265.5,214.2 270.1,217.3 274.8,220.5 279.4,224.0 283.9,227.6 288.5,231.3 292.9,235.2 297.4,239.3 301.7,243.6 306.0,247.9 310.2,252.5 314.4,257.1 318.4,261.9 322.4,266.9 326.3,271.9 330.0,277.0 333.7,282.3 337.3,287.7 340.8,293.1 344.1,298.7 347.4,304.3 350.5,310.0 353.4,315.8 356.3,321.6 359.0,327.5 361.6,333.4 364.1,339.3 366.4,345.3 368.5,351.4 370.5,357.4 372.4,363.4 374.1,369.5 375.6,375.5 377.0,381.5 378.3,387.5 379.3,393.5 380.3,399.5 381.0,405.4 381.6,411.2 382.0,417.0 382.3,422.8 382.4,428.4 382.3,434.0 382.1,439.5 381.7,444.9 381.1,450.2 380.4,455.4 379.5,460.5 378.5,465.5 377.2,470.4 375.9,475.1 374.4,479.7 372.7,484.2 370.8,488.5 368.9,492.7 366.7,496.7 364.4,500.5 362.0,504.2 359.5,507.7 356.8,511.0 353.9,514.2 351.0,517.2 347.9,520.0 344.7,522.6 341.3,525.0 337.9,527.2 334.3,529.2 277.3,560.2 273.7,562.0 269.9,563.7 266.0,565.1 262.1,566.3 258.0,567.3 253.9,568.1 249.7,568.7 245.4,569.0 241.1,569.2 236.7,569.1 232.2,568.9 227.7,568.4 223.1,567.7 218.5,566.8 213.9,565.7 209.2,564.4 204.5,562.9 199.8,561.2 195.1,559.3 190.4,557.2 185.7,554.9 180.9,552.4 176.2,549.7 171.5,546.8 166.9,543.7 162.2,540.5 157.6,537.0 153.1,533.4 148.5,529.7 144.1,525.8 139.6,521.7 135.3,517.4 131.0,513.1 126.8,508.5 122.6,503.9 118.6,499.1 114.6,494.1 110.7,489.1 107.0,484.0 103.3,478.7 99.7,473.3 96.2,467.9 92.9,462.3 89.6,456.7 86.5,451.0 83.6,445.2 80.7,439.4 78.0,433.5 75.4,427.6 72.9,421.7 70.6,415.7 68.5,409.6 66.5,403.6 64.6,397.6 62.9,391.5 61.4,385.5 60.0,379.5 58.7,373.5 57.7,367.5 56.7,361.5 56.0,355.6 55.4,349.8 55.0,344.0 54.7,338.2" fill="url(#cg5)" stroke="#1b2a33" stroke-width="2.2" stroke-linejoin="round"/><clipPath id="cg5c"><polygon points="54.6,332.6 54.7,327.0 54.9,321.5 55.3,316.1 55.9,310.8 56.6,305.6 57.5,300.5 58.5,295.5 59.8,290.6 61.1,285.9 62.6,281.3 64.3,276.8 66.2,272.5 68.1,268.3 70.3,264.3 72.6,260.5 75.0,256.8 77.5,253.3 80.2,250.0 83.1,246.8 86.0,243.8 89.1,241.0 92.3,238.4 95.7,236.0 99.1,233.8 102.7,231.8 159.7,200.8 163.3,199.0 167.1,197.3 171.0,195.9 174.9,194.7 179.0,193.7 183.1,192.9 187.3,192.3 191.6,192.0 195.9,191.8 200.3,191.9 204.8,192.1 209.3,192.6 213.9,193.3 218.5,194.2 223.1,195.3 227.8,196.6 232.5,198.1 237.2,199.8 241.9,201.7 246.6,203.8 251.3,206.1 256.1,208.6 260.8,211.3 265.5,214.2 270.1,217.3 274.8,220.5 279.4,224.0 283.9,227.6 288.5,231.3 292.9,235.2 297.4,239.3 301.7,243.6 306.0,247.9 310.2,252.5 314.4,257.1 318.4,261.9 322.4,266.9 326.3,271.9 330.0,277.0 333.7,282.3 337.3,287.7 340.8,293.1 344.1,298.7 347.4,304.3 350.5,310.0 353.4,315.8 356.3,321.6 359.0,327.5 361.6,333.4 364.1,339.3 366.4,345.3 368.5,351.4 370.5,357.4 372.4,363.4 374.1,369.5 375.6,375.5 377.0,381.5 378.3,387.5 379.3,393.5 380.3,399.5 381.0,405.4 381.6,411.2 382.0,417.0 382.3,422.8 382.4,428.4 382.3,434.0 382.1,439.5 381.7,444.9 381.1,450.2 380.4,455.4 379.5,460.5 378.5,465.5 377.2,470.4 375.9,475.1 374.4,479.7 372.7,484.2 370.8,488.5 368.9,492.7 366.7,496.7 364.4,500.5 362.0,504.2 359.5,507.7 356.8,511.0 353.9,514.2 351.0,517.2 347.9,520.0 344.7,522.6 341.3,525.0 337.9,527.2 334.3,529.2 277.3,560.2 273.7,562.0 269.9,563.7 266.0,565.1 262.1,566.3 258.0,567.3 253.9,568.1 249.7,568.7 245.4,569.0 241.1,569.2 236.7,569.1 232.2,568.9 227.7,568.4 223.1,567.7 218.5,566.8 213.9,565.7 209.2,564.4 204.5,562.9 199.8,561.2 195.1,559.3 190.4,557.2 185.7,554.9 180.9,552.4 176.2,549.7 171.5,546.8 166.9,543.7 162.2,540.5 157.6,537.0 153.1,533.4 148.5,529.7 144.1,525.8 139.6,521.7 135.3,517.4 131.0,513.1 126.8,508.5 122.6,503.9 118.6,499.1 114.6,494.1 110.7,489.1 107.0,484.0 103.3,478.7 99.7,473.3 96.2,467.9 92.9,462.3 89.6,456.7 86.5,451.0 83.6,445.2 80.7,439.4 78.0,433.5 75.4,427.6 72.9,421.7 70.6,415.7 68.5,409.6 66.5,403.6 64.6,397.6 62.9,391.5 61.4,385.5 60.0,379.5 58.7,373.5 57.7,367.5 56.7,361.5 56.0,355.6 55.4,349.8 55.0,344.0 54.7,338.2"/></clipPath><g clip-path="url(#cg5c)"><polyline points="287.3,307.6 293.2,316.6 298.8,325.8 304.0,335.3 308.9,344.9 313.4,354.7 317.6,364.6 321.4,374.6 324.7,384.7 327.6,394.7 330.1,404.8 332.2,414.8 333.8,424.7 335.0,434.5 335.7,444.2 335.9,453.7 335.7,463.0 335.1,472.0 333.9,480.7 332.4,489.1 330.4,497.2 327.9,505.0 325.0,512.3 321.7,519.3 318.0,525.8 313.9,531.8 309.4,537.4 304.5,542.4 299.3,547.0 293.7,551.0 287.9,554.5 281.7,557.4 275.3,559.8 268.6,561.6 261.6,562.8 254.5,563.4 247.2,563.4 239.7,562.9 232.1,561.7 224.4,560.0 216.6,557.7 208.8,554.8 200.9,551.4 193.1,547.5 185.2,543.0 177.4,538.0 169.7,532.5 162.1,526.5 154.6,520.0" fill="none" stroke="#1b2a33" stroke-width="1.4" stroke-linejoin="round" stroke-linecap="round"/><polyline points="293.4,304.2 299.3,313.2 304.9,322.5 310.2,331.9 315.1,341.6 319.6,351.3 323.7,361.3 327.5,371.3 330.9,381.3 333.8,391.4 336.3,401.5 338.3,411.5 340.0,421.4 341.1,431.2 341.8,440.9 342.1,450.3 341.9,459.6 341.2,468.6 340.1,477.4 338.5,485.8 336.5,493.9 334.0,501.6 331.2,509.0 327.9,515.9 324.1,522.4 320.0,528.5 315.5,534.0 310.7,539.1 305.4,543.7 299.9,547.7 294.0,551.2 287.8,554.1 281.4,556.4 274.7,558.2 267.8,559.4 260.7,560.0 253.4,560.1 245.9,559.5 238.3,558.4 230.6,556.7 222.8,554.4 214.9,551.5 207.1,548.1 199.2,544.1 191.4,539.6 183.6,534.6 175.8,529.1 168.2,523.1 160.7,516.7" fill="none" stroke="#1b2a33" stroke-width="1.4" stroke-linejoin="round" stroke-linecap="round"/><polyline points="299.6,300.9 305.5,309.9 311.1,319.1 316.3,328.6 321.2,338.2 325.7,348.0 329.9,357.9 333.7,367.9 337.0,378.0 339.9,388.1 342.4,398.1 344.5,408.1 346.1,418.0 347.3,427.9 348.0,437.5 348.2,447.0 348.0,456.3 347.4,465.3 346.2,474.0 344.7,482.5 342.7,490.6 340.2,498.3 337.3,505.6 334.0,512.6 330.3,519.1 326.2,525.1 321.7,530.7 316.8,535.8 311.6,540.3 306.0,544.3 300.2,547.8 294.0,550.7 287.6,553.1 280.9,554.9 273.9,556.1 266.8,556.7 259.5,556.7 252.0,556.2 244.4,555.0 236.7,553.3 228.9,551.0 221.1,548.2 213.2,544.7 205.4,540.8 197.5,536.3 189.7,531.3 182.0,525.8 174.4,519.8 166.9,513.3" fill="none" stroke="#1b2a33" stroke-width="1.4" stroke-linejoin="round" stroke-linecap="round"/><polyline points="305.7,297.5 311.6,306.5 317.2,315.8 322.5,325.2 327.4,334.9 331.9,344.7 336.0,354.6 339.8,364.6 343.2,374.6 346.1,384.7 348.6,394.8 350.6,404.8 352.3,414.7 353.4,424.5 354.1,434.2 354.4,443.7 354.2,452.9 353.5,461.9 352.4,470.7 350.8,479.1 348.8,487.2 346.3,495.0 343.5,502.3 340.2,509.2 336.4,515.7 332.3,521.8 327.8,527.3 323.0,532.4 317.7,537.0 312.2,541.0 306.3,544.5 300.1,547.4 293.7,549.7 287.0,551.5 280.1,552.7 273.0,553.3 265.7,553.4 258.2,552.8 250.6,551.7 242.9,550.0 235.1,547.7 227.2,544.8 219.4,541.4 211.5,537.4 203.7,532.9 195.9,527.9 188.1,522.4 180.5,516.4 173.0,510.0" fill="none" stroke="#1b2a33" stroke-width="1.4" stroke-linejoin="round" stroke-linecap="round"/><polyline points="311.9,294.2 317.8,303.2 323.4,312.4 328.6,321.9 333.5,331.5 338.0,341.3 342.2,351.2 346.0,361.2 349.3,371.3 352.2,381.4 354.7,391.4 356.8,401.4 358.4,411.4 359.6,421.2 360.3,430.8 360.5,440.3 360.3,449.6 359.7,458.6 358.5,467.3 357.0,475.8 354.9,483.9 352.5,491.6 349.6,499.0 346.3,505.9 342.6,512.4 338.5,518.4 334.0,524.0 329.1,529.1 323.9,533.6 318.3,537.6 312.5,541.1 306.3,544.0 299.9,546.4 293.2,548.2 286.2,549.4 279.1,550.0 271.8,550.0 264.3,549.5 256.7,548.3 249.0,546.6 241.2,544.3 233.4,541.5 225.5,538.1 217.7,534.1 209.8,529.6 202.0,524.6 194.3,519.1 186.7,513.1 179.2,506.6" fill="none" stroke="#1b2a33" stroke-width="1.4" stroke-linejoin="round" stroke-linecap="round"/><polyline points="318.0,290.8 323.9,299.8 329.5,309.1 334.8,318.5 339.7,328.2 344.2,338.0 348.3,347.9 352.1,357.9 355.5,367.9 358.4,378.0 360.9,388.1 362.9,398.1 364.6,408.0 365.7,417.8 366.4,427.5 366.7,437.0 366.5,446.2 365.8,455.2 364.7,464.0 363.1,472.4 361.1,480.5 358.6,488.3 355.8,495.6 352.4,502.6 348.7,509.1 344.6,515.1 340.1,520.7 335.3,525.7 330.0,530.3 324.5,534.3 318.6,537.8 312.4,540.7 306.0,543.0 299.3,544.8 292.4,546.0 285.3,546.7 278.0,546.7 270.5,546.1 262.9,545.0 255.2,543.3 247.4,541.0 239.5,538.1 231.7,534.7 223.8,530.8 216.0,526.3 208.2,521.3 200.4,515.7 192.8,509.8 185.3,503.3" fill="none" stroke="#1b2a33" stroke-width="1.4" stroke-linejoin="round" stroke-linecap="round"/><polyline points="324.2,287.5 330.1,296.5 335.6,305.7 340.9,315.2 345.8,324.8 350.3,334.6 354.5,344.5 358.3,354.5 361.6,364.6 364.5,374.7 367.0,384.7 369.1,394.7 370.7,404.7 371.9,414.5 372.6,424.1 372.8,433.6 372.6,442.9 372.0,451.9 370.8,460.6 369.3,469.1 367.2,477.2 364.8,484.9 361.9,492.3 358.6,499.2 354.9,505.7 350.8,511.8 346.3,517.3 341.4,522.4 336.2,526.9 330.6,531.0 324.8,534.4 318.6,537.3 312.2,539.7 305.5,541.5 298.5,542.7 291.4,543.3 284.1,543.3 276.6,542.8 269.0,541.6 261.3,539.9 253.5,537.6 245.7,534.8 237.8,531.4 230.0,527.4 222.1,522.9 214.3,517.9 206.6,512.4 199.0,506.4 191.5,500.0" fill="none" stroke="#1b2a33" stroke-width="1.4" stroke-linejoin="round" stroke-linecap="round"/><polyline points="330.3,284.2 336.2,293.1 341.8,302.4 347.1,311.8 352.0,321.5 356.5,331.3 360.6,341.2 364.4,351.2 367.7,361.3 370.7,371.3 373.2,381.4 375.2,391.4 376.9,401.3 378.0,411.1 378.7,420.8 379.0,430.3 378.8,439.5 378.1,448.6 377.0,457.3 375.4,465.7 373.4,473.8 370.9,481.6 368.1,488.9 364.7,495.9 361.0,502.4 356.9,508.4 352.4,514.0 347.5,519.0 342.3,523.6 336.8,527.6 330.9,531.1 324.7,534.0 318.3,536.4 311.6,538.1 304.7,539.3 297.6,540.0 290.3,540.0 282.8,539.4 275.2,538.3 267.5,536.6 259.7,534.3 251.8,531.4 244.0,528.0 236.1,524.1 228.3,519.6 220.5,514.6 212.7,509.1 205.1,503.1 197.6,496.6" fill="none" stroke="#1b2a33" stroke-width="1.4" stroke-linejoin="round" stroke-linecap="round"/></g>
<polygon points="266.0,300.0 267.0,301.2 268.1,302.5 269.3,304.1 270.9,306.0 272.7,308.3 275.0,311.0 277.7,314.2 281.0,318.0 285.0,322.6 289.7,328.1 295.0,334.2 300.7,340.8 306.5,347.4 312.3,354.0 317.9,360.3 323.0,366.0 327.8,371.4 332.5,376.7 337.1,381.9 341.6,387.0 346.0,391.8 350.4,396.3 354.7,400.4 359.0,404.0 363.3,407.2 367.6,409.9 371.9,412.3 376.1,414.3 380.3,416.1 384.3,417.6 388.2,418.9 392.0,420.0 395.6,421.0 398.9,421.7 402.1,422.2 405.2,422.5 408.3,422.5 411.5,422.3 414.7,421.8 418.0,421.0 421.5,419.9 425.0,418.4 428.6,416.6 432.2,414.6 435.8,412.3 439.5,410.0 443.3,407.5 447.0,405.0 450.9,402.3 455.0,399.4 459.1,396.2 463.3,392.9 467.4,389.7 471.3,386.6 474.8,383.6 478.0,381.0 480.8,378.6 483.4,376.3 485.8,374.1 487.9,372.0 489.8,370.1 491.5,368.5 492.9,367.1 494.0,366.0 495.0,358.0 472.0,365.0 404.0,401.0 330.0,330.0 298.0,300.0 285.0,292.0" fill="#91acbf" stroke="#1b2a33" stroke-width="2.2" stroke-linejoin="round" />
<g transform="translate(190,396) rotate(62.0)" ><ellipse cx="0.00" cy="0.00" rx="186.00" ry="117.18" fill="#91acbf" stroke="#1b2a33" stroke-width="2.6" /><polyline points="-175.77,-15.56 -173.44,-23.79 -170.14,-31.88 -165.88,-39.79 -160.71,-47.48 -154.63,-54.91 -147.69,-62.03 -139.93,-68.80 -131.39,-75.19 -122.11,-81.16 -112.16,-86.67 -101.57,-91.71 -90.42,-96.23 -78.77,-100.21 -66.67,-103.64 -54.21,-106.48 -41.44,-108.74 -28.44,-110.38 -15.28,-111.41 -2.03,-111.82 11.22,-111.60 24.42,-110.76 37.47,-109.30 50.32,-107.24 62.89,-104.57 75.10,-101.32 86.90,-97.51 98.21,-93.15 108.97,-88.27 119.13,-82.90 128.62,-77.06 137.39,-70.80 145.40,-64.14" fill="none" stroke="#e9eff3" stroke-width="5" stroke-linecap="round"/><polyline points="-61.91,107.15 -83.58,101.15 -103.82,93.41 -122.28,84.07 -138.65,73.30 -152.65,61.27 -164.04,48.19 -172.62,34.29 -178.25,19.80 -180.83,4.97 -180.31,-9.94 -176.71,-24.68 -170.08,-39.00 -160.55,-52.65 -148.27,-65.40 -133.45,-77.04 -116.34,-87.35 -97.25,-96.17 -76.49,-103.35 -54.43,-108.75 -31.43,-112.30 -7.90,-113.92 15.78,-113.60 39.18,-111.33 61.91,-107.15 83.58,-101.15 103.82,-93.41 122.28,-84.07 138.65,-73.30 152.65,-61.27 164.04,-48.19 172.62,-34.29 178.25,-19.80" fill="none" stroke="#1b2a33" stroke-width="1.3" stroke-linecap="round"/><polyline points="-150.69,54.81 -159.07,44.42 -165.66,33.53 -170.37,22.26 -173.16,10.74 -173.99,-0.90 -172.86,-12.53 -169.77,-24.02 -164.77,-35.24 -157.90,-46.06 -149.24,-56.36 -138.91,-66.02 -127.00,-74.94 -113.65,-83.01 -99.02,-90.14 -83.28,-96.25 -66.59,-101.28 -49.15,-105.16 -31.15,-107.85 -12.80,-109.32 5.69,-109.56 24.12,-108.56 42.28,-106.33 59.96,-102.91 76.96,-98.32 93.09,-92.61 108.17,-85.86 122.03,-78.14 134.50,-69.54 145.46,-60.15 154.78,-50.09 162.34,-39.45 168.07,-28.37" fill="none" stroke="#1b2a33" stroke-width="1.3" stroke-linecap="round"/><ellipse cx="0.00" cy="7.00" rx="159.00" ry="100.17" fill="url(#wall)" stroke="#1b2a33" stroke-width="1.7" /><clipPath id="cA"><ellipse cx="0" cy="7" rx="159" ry="100.17"/></clipPath><g clip-path="url(#cA)"><ellipse cx="0.00" cy="-66.00" rx="166.00" ry="104.58" fill="#91acbf" stroke="#1b2a33" stroke-width="1.6" /><polyline points="86.76,-87.62 90.98,-80.86 93.86,-73.83 95.35,-66.62 95.43,-59.36 94.09,-52.15 91.37,-45.09 87.29,-38.30 81.93,-31.87 75.36,-25.90 67.67,-20.49 58.99,-15.71 49.45,-11.63 39.19,-8.32 28.36,-5.83 17.13,-4.19 5.67,-3.43 -5.86,-3.56 -17.27,-4.57 -28.40,-6.46 -39.09,-9.19 -49.15,-12.73 -58.46,-17.02 -66.86,-21.99 -74.24,-27.57 -80.47,-33.68 -85.47,-40.23 -89.16,-47.11 -91.49,-54.22 -92.41,-61.46 -91.93,-68.72 -90.03,-75.88 -86.76,-82.84" fill="none" stroke="#1b2a33" stroke-width="1.5" stroke-linecap="round"/></g></g>
<g transform="translate(246,367.5) rotate(62.0)" ><ellipse cx="0.00" cy="0.00" rx="44.00" ry="27.72" fill="none" stroke="#1b2a33" stroke-width="1.5" /><clipPath id="h4"><ellipse cx="0" cy="0" rx="22" ry="13.86"/></clipPath><g clip-path="url(#h4)"><ellipse cx="0" cy="0" rx="22" ry="13.86" fill="#56798c"/><ellipse cx="9.24" cy="1.10" rx="21.56" ry="13.58" fill="url(#holew)"/></g><ellipse cx="0.00" cy="0.00" rx="22.00" ry="13.86" fill="none" stroke="#1b2a33" stroke-width="1.6" /></g>
<g transform="translate(183,353) rotate(62.0)" ><g transform="translate(0,0)"><path d="M-13,-18 L-13,0 A13,8.19 0 0 0 13,0 L13,-18 A13,8.19 0 0 0 -13,-18 Z" fill="url(#bossg)" stroke="#1b2a33" stroke-width="1.5"/><ellipse cx="0.00" cy="0.00" rx="13.00" ry="8.19" fill="#b5c8d3" stroke="#1b2a33" stroke-width="1.5" /><ellipse cx="0.00" cy="0.00" rx="6.50" ry="4.09" fill="url(#hole)" stroke="#1b2a33" stroke-width="1.2" /></g></g>
<g transform="translate(236,427) rotate(62.0)" ><g transform="translate(0,0)"><path d="M-13,-18 L-13,0 A13,8.19 0 0 0 13,0 L13,-18 A13,8.19 0 0 0 -13,-18 Z" fill="url(#bossg)" stroke="#1b2a33" stroke-width="1.5"/><ellipse cx="0.00" cy="0.00" rx="13.00" ry="8.19" fill="#b5c8d3" stroke="#1b2a33" stroke-width="1.5" /><ellipse cx="0.00" cy="0.00" rx="6.50" ry="4.09" fill="url(#hole)" stroke="#1b2a33" stroke-width="1.2" /></g></g>
<polygon points="296.5,290.8 296.5,288.1 296.6,285.4 296.8,282.8 297.1,280.3 297.5,277.7 297.9,275.3 298.4,272.9 299.0,270.5 299.6,268.2 300.4,266.0 301.2,263.8 302.1,261.7 303.0,259.7 304.1,257.8 305.2,255.9 306.3,254.1 307.6,252.5 308.9,250.8 310.3,249.3 311.7,247.9 313.2,246.5 314.7,245.3 316.4,244.1 318.0,243.0 380.0,206.0 381.7,205.0 383.5,204.2 385.3,203.4 387.2,202.7 389.1,202.1 391.1,201.6 393.1,201.2 395.1,201.0 397.2,200.8 399.3,200.7 401.4,200.7 403.6,200.8 405.8,201.1 408.0,201.4 410.2,201.8 412.4,202.4 414.7,203.0 417.0,203.7 419.2,204.6 421.5,205.5 423.8,206.5 426.1,207.6 428.4,208.8 430.7,210.2 432.9,211.5 435.2,213.0 437.4,214.6 439.7,216.3 441.9,218.0 444.1,219.8 446.2,221.7 448.4,223.7 450.5,225.7 452.5,227.9 454.6,230.1 456.6,232.3 458.6,234.6 460.5,237.0 462.4,239.4 464.2,241.9 466.0,244.5 467.7,247.1 469.4,249.7 471.0,252.4 472.6,255.1 474.1,257.9 475.5,260.7 476.9,263.5 478.2,266.3 479.5,269.2 480.6,272.1 481.8,275.0 482.8,277.9 483.8,280.8 484.7,283.7 485.5,286.7 486.2,289.6 486.9,292.5 487.5,295.4 488.0,298.3 488.5,301.2 488.8,304.0 489.1,306.9 489.3,309.7 489.5,312.4 489.5,315.2 489.5,317.9 489.4,320.6 489.2,323.2 488.9,325.7 488.5,328.3 488.1,330.7 487.6,333.1 487.0,335.5 486.4,337.8 485.6,340.0 484.8,342.2 483.9,344.3 483.0,346.3 481.9,348.2 480.8,350.1 479.7,351.9 478.4,353.5 477.1,355.2 475.7,356.7 474.3,358.1 472.8,359.5 471.3,360.7 469.6,361.9 468.0,363.0 406.0,400.0 404.3,401.0 402.5,401.8 400.7,402.6 398.8,403.3 396.9,403.9 394.9,404.4 392.9,404.8 390.9,405.0 388.8,405.2 386.7,405.3 384.6,405.3 382.4,405.2 380.2,404.9 378.0,404.6 375.8,404.2 373.6,403.6 371.3,403.0 369.0,402.3 366.8,401.4 364.5,400.5 362.2,399.5 359.9,398.4 357.6,397.2 355.3,395.8 353.1,394.5 350.8,393.0 348.6,391.4 346.3,389.7 344.1,388.0 341.9,386.2 339.8,384.3 337.6,382.3 335.5,380.3 333.5,378.1 331.4,375.9 329.4,373.7 327.4,371.4 325.5,369.0 323.6,366.6 321.8,364.1 320.0,361.5 318.3,358.9 316.6,356.3 315.0,353.6 313.4,350.9 311.9,348.1 310.5,345.3 309.1,342.5 307.8,339.7 306.5,336.8 305.4,333.9 304.2,331.0 303.2,328.1 302.2,325.2 301.3,322.3 300.5,319.3 299.8,316.4 299.1,313.5 298.5,310.6 298.0,307.7 297.5,304.8 297.2,302.0 296.9,299.1 296.7,296.3 296.5,293.6" fill="url(#cg6)" stroke="#1b2a33" stroke-width="2.2" stroke-linejoin="round"/>
<g transform="translate(362,321.5) rotate(62.0)" ><ellipse cx="0.00" cy="0.00" rx="90.00" ry="56.70" fill="#91acbf" stroke="#1b2a33" stroke-width="2.6" /><ellipse cx="0.00" cy="0.00" rx="85.00" ry="53.55" fill="none" stroke="#1b2a33" stroke-width="1.2" /></g>
<g transform="translate(377.5,316.7) rotate(62.0)" ><ellipse cx="0.00" cy="0.00" rx="51.00" ry="32.13" fill="none" stroke="#1b2a33" stroke-width="1.6" /><clipPath id="h5"><ellipse cx="0" cy="0" rx="19" ry="11.97"/></clipPath><g clip-path="url(#h5)"><ellipse cx="0" cy="0" rx="19" ry="11.97" fill="#56798c"/><ellipse cx="7.98" cy="0.95" rx="18.62" ry="11.73" fill="url(#holew)"/></g><ellipse cx="0.00" cy="0.00" rx="19.00" ry="11.97" fill="none" stroke="#1b2a33" stroke-width="1.6" /></g>
<g transform="translate(537,422.5) rotate(62.0)" ><ellipse cx="0.00" cy="0.00" rx="85.50" ry="53.87" fill="#91acbf" stroke="#1b2a33" stroke-width="2.4" /><polyline points="-11.88,42.44 -20.21,41.17 -28.23,39.25 -35.80,36.72 -42.81,33.61 -49.15,29.97 -54.72,25.86 -59.42,21.34 -63.19,16.49 -65.97,11.38 -67.71,6.09 -68.39,0.71 -67.99,-4.69 -66.53,-10.01 -64.02,-15.18 -60.50,-20.11 -56.03,-24.72 -50.68,-28.94 -44.54,-32.71 -37.69,-35.96 -30.25,-38.65 -22.34,-40.73 -14.08,-42.17 -5.59,-42.95 2.98,-43.05 11.51,-42.48 19.86,-41.24 27.89,-39.35 35.48,-36.84 42.52,-33.75 48.89,-30.14 54.49,-26.05 59.24,-21.55" fill="none" stroke="#1b2a33" stroke-width="1.3" stroke-linecap="round"/></g>
<g transform="translate(546,418) rotate(62.0)" ><clipPath id="h6"><ellipse cx="0" cy="0" rx="34" ry="21.42"/></clipPath><g clip-path="url(#h6)"><ellipse cx="0" cy="0" rx="34" ry="21.42" fill="#56798c"/><ellipse cx="14.28" cy="1.70" rx="33.32" ry="20.99" fill="url(#holew)"/></g><ellipse cx="0.00" cy="0.00" rx="34.00" ry="21.42" fill="none" stroke="#1b2a33" stroke-width="1.8" /></g>
<g transform="translate(548,780) rotate(62.0)" ><ellipse cx="0.00" cy="0.00" rx="157.00" ry="98.91" fill="#91acbf" stroke="#1b2a33" stroke-width="2.6" /></g>
<polygon points="450.3,699.5 461.1,681.5 477.8,672.0 501.8,669.6 525.7,674.4 537.6,681.5 540.0,688.7 540.0,700.7 544.8,707.8 556.8,715.0 578.3,731.8 597.4,762.8 611.8,798.7 615.4,832.2 616.6,851.3 547.2,884.8 520.0,870.0 501.8,856.0 477.8,827.4 468.3,794.0 465.9,755.7 465.9,731.8" fill="none" stroke="#1b2a33" stroke-width="1.4" stroke-linejoin="round" />
<path d="M485,741 L526,775 L573,765 M526,775 L559,861" stroke="#1b2a33" stroke-width="14.5" stroke-linecap="round" fill="none"/>
<path d="M485,741 L526,775 L573,765 M526,775 L559,861" stroke="#5d8195" stroke-width="12" stroke-linecap="round" fill="none"/>
<ellipse cx="535" cy="788" rx="17" ry="24" fill="#5d8195" stroke="#1b2a33" stroke-width="1.3"/>
<path d="M485,741 L526,775 L573,765 M526,775 L559,861" stroke="#5d8195" stroke-width="12" stroke-linecap="round" fill="none"/>
<ellipse cx="528" cy="741" rx="7.5" ry="11" transform="rotate(-20 528 741)" fill="url(#hole)" stroke="#1b2a33" stroke-width="1.4"/>
<ellipse cx="573.5" cy="801" rx="7.5" ry="11" transform="rotate(-20 573.5 801)" fill="url(#hole)" stroke="#1b2a33" stroke-width="1.4"/>
<ellipse cx="511.3" cy="813" rx="8" ry="11" transform="rotate(-20 511.3 813)" fill="url(#hole)" stroke="#1b2a33" stroke-width="1.4"/>
<ellipse cx="592.6" cy="724.6" rx="11" ry="15.5" transform="rotate(-20 592.6 724.6)" fill="url(#hole)" stroke="#1b2a33" stroke-width="1.4"/>
<ellipse cx="451.5" cy="736.5" rx="11" ry="15.5" transform="rotate(-20 451.5 736.5)" fill="url(#hole)" stroke="#1b2a33" stroke-width="1.4"/>
<ellipse cx="597" cy="897" rx="11" ry="15.5" transform="rotate(-20 597 897)" fill="url(#hole)" stroke="#1b2a33" stroke-width="1.4"/>
<ellipse cx="204.7" cy="128.4" rx="33" ry="56" fill="#c4d5df"/>
<text transform="translate(192.60,124.6) scale(0.94,1)" x="0" y="0" font-family="Liberation Sans, sans-serif" font-size="50" fill="#1c2a33" stroke="#1c2a33" stroke-width="0.9">A</text>
<text transform="translate(370.30,133.2) scale(0.89,1)" x="0" y="0" font-family="Liberation Sans, sans-serif" font-size="52" fill="#1c2a33" stroke="#1c2a33" stroke-width="0.9">E</text>
<text transform="translate(455.10,139.8) scale(0.95,1)" x="0" y="0" font-family="Liberation Sans, sans-serif" font-size="50" fill="#1c2a33" stroke="#1c2a33" stroke-width="0.9">D</text>
<text transform="translate(431.00,463.1) scale(0.91,1)" x="0" y="0" font-family="Liberation Sans, sans-serif" font-size="49.5" fill="#1c2a33" stroke="#1c2a33" stroke-width="0.9">B</text>
<text transform="translate(460.18,590.3) scale(0.97,1)" x="0" y="0" font-family="Liberation Sans, sans-serif" font-size="48.5" fill="#1c2a33" stroke="#1c2a33" stroke-width="0.9">G</text>
<text transform="translate(293.62,774.5) scale(0.89,1)" x="0" y="0" font-family="Liberation Sans, sans-serif" font-size="49.5" fill="#1c2a33" stroke="#1c2a33" stroke-width="0.9">4</text>
<text transform="translate(567.58,1002.4) scale(0.89,1)" x="0" y="0" font-family="Liberation Sans, sans-serif" font-size="49.5" fill="#1c2a33" stroke="#1c2a33" stroke-width="0.9">F</text>
<text transform="translate(408.65,1010.7) scale(0.97,1)" x="0" y="0" font-family="Liberation Sans, sans-serif" font-size="49.6" fill="#1c2a33" stroke="#1c2a33" stroke-width="0.9">D</text>
<text transform="translate(721.44,1048.5) scale(0.89,1)" x="0" y="0" font-family="Liberation Sans, sans-serif" font-size="50" fill="#1c2a33" stroke="#1c2a33" stroke-width="0.9">E</text>
<line x1="206" y1="134" x2="206" y2="300" stroke="#1b2a33" stroke-width="2.4"/>
<line x1="382" y1="143" x2="382" y2="209" stroke="#1b2a33" stroke-width="2.4"/>
<line x1="493" y1="122.7" x2="556" y2="122.7" stroke="#1b2a33" stroke-width="2.4"/>
<line x1="465" y1="448.6" x2="514" y2="448.6" stroke="#1b2a33" stroke-width="2.9"/>
<line x1="498" y1="576.4" x2="569" y2="576.4" stroke="#1b2a33" stroke-width="2.4"/>
<line x1="308" y1="667" x2="308" y2="732" stroke="#1b2a33" stroke-width="2.4"/>
<line x1="578" y1="905" x2="578" y2="961" stroke="#1b2a33" stroke-width="2.4"/>
<line x1="423" y1="1024" x2="423" y2="1029" stroke="#1b2a33" stroke-width="2.4"/>
<path d="M866,940 C868,930 872,925 880,922 L880,940 Z" fill="#dfe7ec" stroke="#1b2a33" stroke-width="2.2"/>
<path d="M803,1031 C804,995 812,966 838,949 C850,942 862,939 880,937 L880,1031 Z" fill="#91acbf" stroke="#1b2a33" stroke-width="2.6"/>
<path d="M829,1031 C832,1012 846,997 862,990 C868,988 874,987 880,987" fill="none" stroke="#1b2a33" stroke-width="1.8"/>
<line x1="800" y1="1028" x2="878" y2="1028" stroke="#9aa5ab" stroke-width="1.5"/></svg>
</body></html>
